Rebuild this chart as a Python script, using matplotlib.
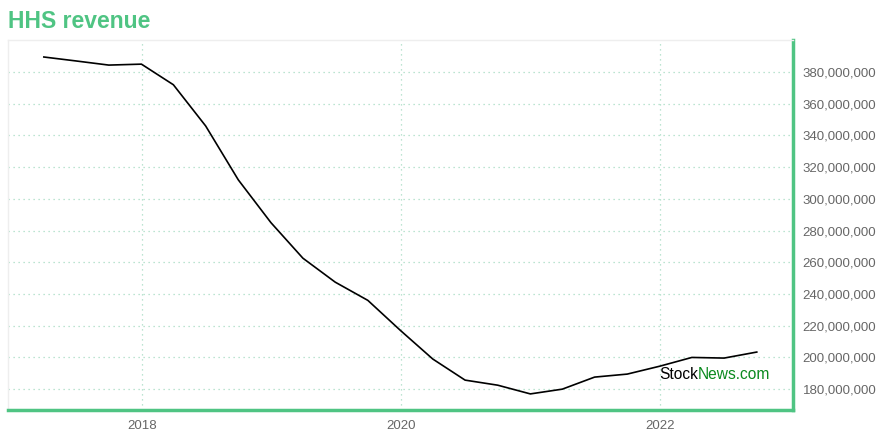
import matplotlib.pyplot as plt
import matplotlib.ticker as mticker
import pandas as pd

# quarterly revenue
dates = pd.date_range('2017-03-31', '2022-09-30', freq='QE')
revenue = [389.5, 387.0, 384.4, 385.0, 372.0, 346.0, 312.0, 285.0,
           262.6, 247.5, 236.0, 217.0, 199.0, 185.7, 182.5, 177.0,
           180.0, 187.6, 189.5, 194.5, 200.0, 199.6, 203.4]
revenue = [v * 1e6 for v in revenue]
yticks = [v * 1e6 for v in range(180, 381, 20)]

green = '#4fc483'
plt.rcParams['font.family'] = ['Liberation Sans', 'DejaVu Sans']

fig = plt.figure(figsize=(8.8, 4.4), dpi=100)
ax = fig.add_axes([0.0091, 0.068, 0.8920, 0.841])

ax.plot(dates, revenue, color='black', linewidth=1.2)

ax.set_xlim(pd.Timestamp('2016-12-20'), pd.Timestamp('2023-01-10'))
ax.set_ylim(166.8e6, 400.2e6)

ax.yaxis.tick_right()
ax.set_yticks(yticks)
ax.yaxis.set_major_formatter(mticker.FuncFormatter(lambda v, p: f'{v:,.0f}'))
ax.set_xticks([pd.Timestamp(f'{y}-01-01') for y in [2018, 2020, 2022]])
ax.set_xticklabels(['2018', '2020', '2022'])
ax.tick_params(axis='both', length=0, labelsize=9.5, labelcolor='#666666', pad=7)

ax.grid(True, linestyle=(0, (1, 3)), color='#a6dcc2', linewidth=0.9)

for side in ['top', 'left']:
    ax.spines[side].set_color('#eeeeee')
    ax.spines[side].set_linewidth(1)
for side in ['bottom', 'right']:
    ax.spines[side].set_color(green)
    ax.spines[side].set_linewidth(2.5)

fig.text(0.009, 0.95, 'HHS revenue', color=green, fontsize=16.5,
         fontweight='bold', va='center', ha='left')

ax.text(0.879, 0.097, 'Stock', transform=ax.transAxes, color='black',
        fontsize=11.2, ha='right', va='center')
ax.text(0.879, 0.097, 'News.com', transform=ax.transAxes, color='#0a8a1e',
        fontsize=11.2, ha='left', va='center')

plt.savefig('out.png', dpi=100)
